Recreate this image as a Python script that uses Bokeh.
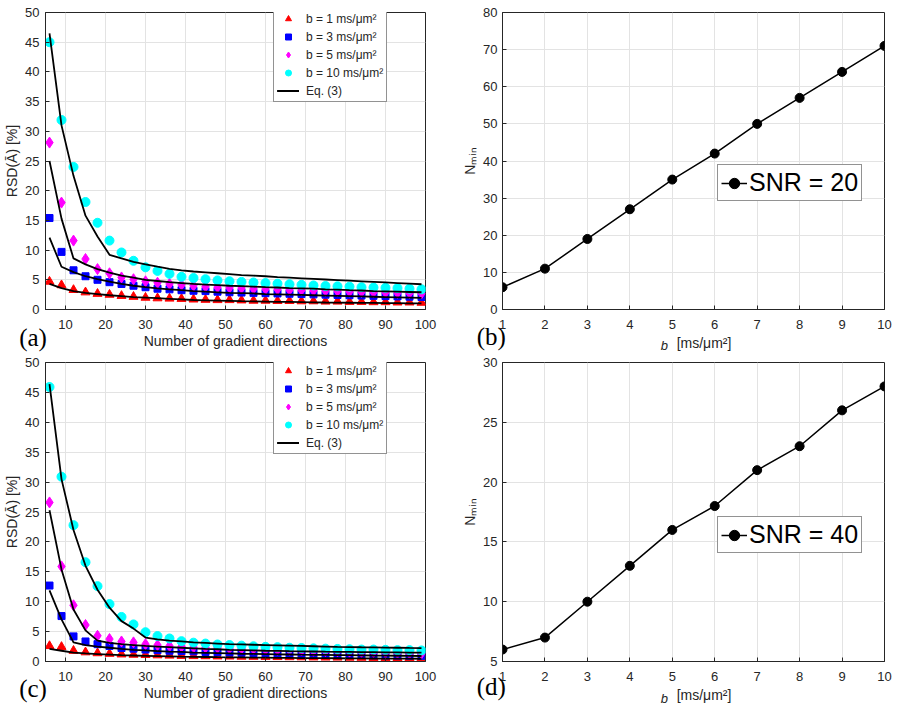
from bokeh.plotting import figure
from bokeh.layouts import gridplot
from bokeh.models import Legend, LegendItem, LinearAxis, Range1d, FixedTicker
from bokeh.embed import file_html
from bokeh.resources import INLINE

# ---------------- data ----------------
n_dirs = [6, 9, 12, 15, 18, 21, 24, 27, 30, 33, 36, 39, 42, 45, 48, 51,
          54, 57, 60, 63, 66, 69, 72, 75, 78, 81, 84, 87, 90, 93, 96, 99]

# panel (a): simulated RSD [%] (SNR = 20)
a_b1 = [4.7, 4.1, 3.3, 2.9, 2.65, 2.5, 2.3, 2.15, 2.0, 1.9, 1.85, 1.8, 1.7, 1.65, 1.6, 1.6,
        1.55, 1.5, 1.5, 1.45, 1.45, 1.4, 1.4, 1.35, 1.35, 1.3, 1.3, 1.25, 1.25, 1.2, 1.2, 1.15]
a_b3 = [15.4, 9.7, 6.6, 5.6, 5.0, 4.6, 4.3, 4.0, 3.75, 3.5, 3.4, 3.25, 3.15, 3.1, 3.0, 2.9,
        2.85, 2.8, 2.75, 2.7, 2.65, 2.6, 2.55, 2.5, 2.45, 2.4, 2.35, 2.3, 2.25, 2.2, 2.15, 2.1]
a_b5 = [28.1, 18.0, 11.6, 8.5, 6.8, 6.1, 5.4, 5.1, 4.75, 4.5, 4.3, 4.15, 4.0, 3.85, 3.75, 3.65,
        3.6, 3.5, 3.45, 3.4, 3.3, 3.25, 3.2, 3.15, 3.1, 3.0, 2.95, 2.9, 2.85, 2.8, 2.75, 2.7]
a_b10 = [45.0, 31.9, 24.0, 18.1, 14.6, 11.6, 9.6, 8.2, 7.1, 6.5, 6.0, 5.5, 5.3, 5.1, 4.9, 4.75,
         4.65, 4.55, 4.45, 4.35, 4.25, 4.15, 4.05, 3.95, 3.9, 3.85, 3.75, 3.7, 3.65, 3.6, 3.5, 3.4]
a_eq1 = [4.3, 3.6, 3.1, 2.8, 2.6, 2.4, 2.25, 2.1, 2.0, 1.9, 1.8, 1.7, 1.6, 1.55, 1.5, 1.45,
         1.4, 1.37, 1.34, 1.3, 1.27, 1.24, 1.21, 1.18, 1.16, 1.14, 1.12, 1.1, 1.08, 1.06, 1.04, 1.02]
a_eq3 = [12.1, 7.2, 6.3, 5.6, 5.1, 4.7, 4.3, 4.0, 3.75, 3.55, 3.4, 3.25, 3.1, 3.0, 2.9, 2.8,
         2.75, 2.7, 2.6, 2.55, 2.5, 2.45, 2.4, 2.35, 2.3, 2.25, 2.2, 2.15, 2.1, 2.05, 2.0, 1.95]
a_eq5 = [25.0, 15.3, 8.6, 7.6, 6.8, 6.2, 5.7, 5.35, 5.0, 4.8, 4.6, 4.45, 4.3, 4.2, 4.1, 4.0,
         3.95, 3.85, 3.75, 3.7, 3.6, 3.55, 3.5, 3.4, 3.35, 3.25, 3.2, 3.1, 3.05, 3.0, 2.95, 2.9]
a_eq10 = [46.5, 31.0, 22.5, 15.8, 12.3, 9.2, 8.6, 8.0, 7.6, 7.2, 6.85, 6.6, 6.4, 6.25, 6.1, 5.95,
          5.8, 5.7, 5.6, 5.45, 5.35, 5.25, 5.15, 5.05, 4.95, 4.85, 4.75, 4.65, 4.55, 4.45, 4.35, 4.25]

# panel (c): simulated RSD [%] (SNR = 40)
c_b1 = [2.6, 2.45, 1.8, 1.55, 1.4, 1.3, 1.2, 1.15, 1.1, 1.05, 1.0, 0.95, 0.92, 0.9, 0.87, 0.85,
        0.82, 0.8, 0.78, 0.76, 0.74, 0.72, 0.7, 0.68, 0.67, 0.65, 0.64, 0.62, 0.61, 0.6, 0.58, 0.57]
c_b3 = [12.7, 7.6, 4.2, 3.35, 2.9, 2.6, 2.25, 2.15, 2.0, 1.9, 1.8, 1.75, 1.7, 1.6, 1.55, 1.5,
        1.45, 1.4, 1.35, 1.3, 1.28, 1.25, 1.2, 1.18, 1.15, 1.12, 1.1, 1.05, 1.02, 1.0, 0.98, 0.95]
c_b5 = [26.6, 15.9, 9.4, 6.1, 4.3, 3.75, 3.35, 3.2, 2.9, 2.75, 2.6, 2.5, 2.4, 2.35, 2.3, 2.2,
        2.15, 2.1, 2.0, 1.95, 1.9, 1.85, 1.8, 1.75, 1.7, 1.65, 1.6, 1.55, 1.5, 1.45, 1.4, 1.35]
c_b10 = [45.9, 30.9, 22.8, 16.6, 12.6, 9.6, 7.45, 6.2, 4.9, 4.25, 3.85, 3.4, 3.15, 3.0, 2.85, 2.75,
         2.65, 2.55, 2.45, 2.4, 2.3, 2.25, 2.2, 2.15, 2.1, 2.05, 2.0, 2.0, 1.95, 1.9, 1.9, 1.85]
c_eq1 = [2.1, 1.8, 1.5, 1.35, 1.25, 1.15, 1.05, 1.0, 0.95, 0.9, 0.85, 0.8, 0.78, 0.75, 0.72, 0.7,
         0.68, 0.66, 0.64, 0.62, 0.6, 0.58, 0.56, 0.55, 0.54, 0.52, 0.51, 0.5, 0.49, 0.48, 0.47, 0.46]
c_eq3 = [11.9, 7.05, 3.2, 2.75, 2.5, 2.3, 2.1, 1.95, 1.85, 1.75, 1.65, 1.6, 1.5, 1.45, 1.4, 1.35,
         1.3, 1.27, 1.24, 1.2, 1.17, 1.14, 1.12, 1.1, 1.07, 1.05, 1.03, 1.0, 0.98, 0.96, 0.94, 0.92]
c_eq5 = [25.3, 15.4, 8.7, 5.2, 3.5, 3.1, 2.9, 2.75, 2.6, 2.5, 2.4, 2.3, 2.2, 2.1, 2.05, 1.95,
         1.9, 1.85, 1.8, 1.77, 1.73, 1.7, 1.67, 1.64, 1.62, 1.6, 1.58, 1.56, 1.54, 1.52, 1.5, 1.48]
c_eq10 = [46.4, 30.5, 22.0, 16.0, 12.0, 9.0, 6.75, 5.5, 4.0, 3.7, 3.5, 3.35, 3.2, 3.1, 3.0, 2.9,
          2.85, 2.8, 2.75, 2.7, 2.65, 2.6, 2.55, 2.5, 2.45, 2.42, 2.38, 2.35, 2.32, 2.3, 2.27, 2.25]

# panels (b), (d): N_min vs b
b_vals = [1, 2, 3, 4, 5, 6, 7, 8, 9, 10]
nmin_snr20 = [6, 11, 19, 27, 35, 42, 50, 57, 64, 71]
nmin_snr40 = [6, 7, 10, 13, 16, 18, 21, 23, 26, 28]

# ticks / labels
rsd_xticks = [10, 20, 30, 40, 50, 60, 70, 80, 90, 100]
rsd_yticks = [0, 5, 10, 15, 20, 25, 30, 35, 40, 45, 50]
b_ticks = [1, 2, 3, 4, 5, 6, 7, 8, 9, 10]
nmin20_ticks = [0, 10, 20, 30, 40, 50, 60, 70, 80]
nmin40_ticks = [5, 10, 15, 20, 25, 30]
leg_labels = ["b = 1 ms/\u03bcm\u00b2", "b = 3 ms/\u03bcm\u00b2",
              "b = 5 ms/\u03bcm\u00b2", "b = 10 ms/\u03bcm\u00b2", "Eq. (3)"]

SANS = "Liberation Sans"
SERIF = "Liberation Serif"
AX = "#262626"
GRID = "#e3e3e3"
EM = "\u2003"
EN = "\u2002"
THIN = "\u2009"


def make_fig(w, h, bl, br, bt, bb, xr, yr, xt, yt):
    p = figure(width=w, height=h, x_range=xr, y_range=yr,
               output_backend="svg", toolbar_location=None,
               min_border_left=bl, min_border_right=br,
               min_border_top=bt, min_border_bottom=bb)
    p.xaxis.ticker = xt
    p.yaxis.ticker = yt
    for ax in (p.xaxis, p.yaxis):
        ax.axis_line_color = AX
        ax.major_tick_line_color = AX
        ax.major_tick_in = 4
        ax.major_tick_out = 0
        ax.minor_tick_line_color = None
        ax.major_label_text_color = AX
        ax.major_label_text_font = SANS
        ax.major_label_text_font_size = "13px"
        ax.axis_label_text_font = SANS
        ax.axis_label_text_font_style = "normal"
        ax.axis_label_text_color = AX
    p.xaxis.major_label_standoff = 10
    p.yaxis.major_label_standoff = 6
    p.xaxis.axis_label_standoff = 1
    p.yaxis.axis_label_standoff = 2
    p.grid.grid_line_color = GRID
    p.outline_line_color = AX
    p.outline_line_alpha = 1
    p.outline_line_width = 1
    return p


def add_tag(p, frame_w, text, standoff, extra_label=None, extra_standoff=0):
    # Panel letter: the single tick label (at the frame's left edge) of an extra,
    # invisible bottom axis; trailing wide spaces move the visible text left.
    p.extra_x_ranges = {"tag": Range1d(0, frame_w)}
    ax = LinearAxis(x_range_name="tag", ticker=FixedTicker(ticks=[0]),
                    major_label_overrides={0: text},
                    axis_line_color=None, major_tick_line_color=None,
                    minor_tick_line_color=None, major_tick_in=0, major_tick_out=0,
                    major_label_standoff=standoff,
                    major_label_text_font=SERIF, major_label_text_font_size="25px",
                    major_label_text_color="black")
    if extra_label is not None:
        ax.axis_label = extra_label
        ax.axis_label_standoff = extra_standoff
        ax.axis_label_text_font = SANS
        ax.axis_label_text_font_size = "13px"
        ax.axis_label_text_font_style = "italic"
        ax.axis_label_text_color = AX
    p.add_layout(ax, "below")


def rsd_panel(w, h, bl, br, bt, bb, s1, s3, s5, s10, e1, e3, e5, e10, tag, tag_so):
    p = make_fig(w, h, bl, br, bt, bb, (5, 100), (0, 50), rsd_xticks, rsd_yticks)
    p.xaxis.axis_label = "Number of gradient directions"
    p.yaxis.axis_label = "RSD(\u0100) [%]"
    p.xaxis.axis_label_text_font_size = "14px"
    p.yaxis.axis_label_text_font_size = "14px"
    r1 = p.scatter(n_dirs, s1, marker="triangle", size=9, color="#ff0000")
    r3 = p.scatter(n_dirs, s3, marker="square", size=7, color="#0000ff")
    r5 = p.scatter(n_dirs, s5, marker="diamond", size=11, color="#ff00ff")
    r10 = p.scatter(n_dirs, s10, marker="circle", size=9, color="#00ffff")
    lines = [p.line(n_dirs, e, line_color="black", line_width=1.8) for e in (e1, e3, e5, e10)]
    items = [LegendItem(label=leg_labels[0], renderers=[r1]),
             LegendItem(label=leg_labels[1], renderers=[r3]),
             LegendItem(label=leg_labels[2], renderers=[r5]),
             LegendItem(label=leg_labels[3], renderers=[r10]),
             LegendItem(label=leg_labels[4], renderers=lines)]
    leg = Legend(items=items, location=(228, 207), margin=0, padding=3,
                 spacing=3, glyph_width=22, glyph_height=15, label_height=15,
                 label_standoff=7, label_text_font=SANS, label_text_font_size="12px",
                 label_text_color=AX, border_line_color=AX, border_line_width=1,
                 background_fill_color="white", background_fill_alpha=1)
    p.add_layout(leg)
    add_tag(p, w - bl - br, tag + EM, tag_so)
    return p


def nmin_panel(w, h, bl, br, bt, bb, yr, yt, vals, snr, tag, tag_so, b_so):
    p = make_fig(w, h, bl, br, bt, bb, (1, 10), yr, b_ticks, yt)
    p.xaxis.axis_label = EM + EN + "[ms/\u03bcm\u00b2]"
    p.yaxis.axis_label = "N\u2098\u1d62\u2099"
    p.xaxis.axis_label_text_font_size = "14px"
    p.yaxis.axis_label_text_font_size = "14px"
    p.xaxis.axis_label_standoff = 3
    p.yaxis.major_label_standoff = 5
    r_l = p.line(b_vals, vals, line_color="black", line_width=1.5)
    r_s = p.scatter(b_vals, vals, marker="circle", size=9, color="black")
    leg = Legend(items=[LegendItem(label=snr, renderers=[r_l, r_s])],
                 location=(215, 108), margin=0, padding=3, spacing=0,
                 glyph_width=26, glyph_height=26, label_height=26, label_standoff=2,
                 label_text_font=SANS, label_text_font_size="25px", label_text_color="black",
                 border_line_color=AX, border_line_width=1,
                 background_fill_color="white", background_fill_alpha=1)
    p.add_layout(leg)
    add_tag(p, w - bl - br, tag + EN + THIN + THIN, tag_so,
            extra_label="b" + EM * 4 + EN, extra_standoff=b_so)
    return p


pa = rsd_panel(450, 355, 45, 25, 12, 42, a_b1, a_b3, a_b5, a_b10,
               a_eq1, a_eq3, a_eq5, a_eq10, "(a)", -28)
pc = rsd_panel(450, 355, 45, 25, 7, 46, c_b1, c_b3, c_b5, c_b10,
               c_eq1, c_eq3, c_eq5, c_eq10, "(c)", -29)
pb = nmin_panel(447, 355, 52, 13, 12, 45, (0, 80), nmin20_ticks, nmin_snr20,
                "SNR = 20", "(b)", -31, -15)
pd = nmin_panel(447, 355, 52, 13, 7, 49, (5, 30), nmin40_ticks, nmin_snr40,
                "SNR = 40", "(d)", -33, -12)

grid = gridplot([[pa, pb], [pc, pd]], toolbar_location=None)

with open("out.html", "w") as f:
    f.write(file_html(grid, INLINE))
